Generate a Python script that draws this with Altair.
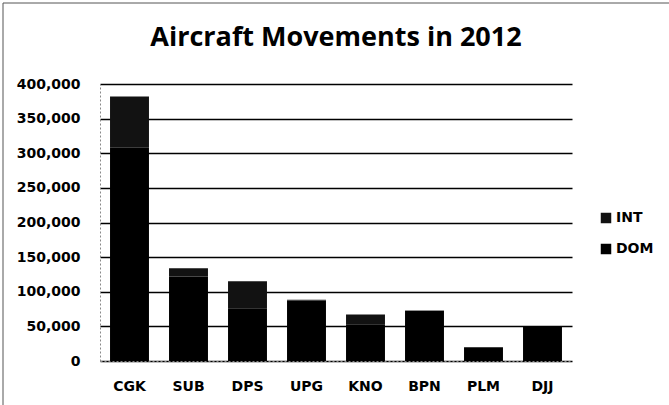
import altair as alt
import pandas as pd

airports = ["CGK", "SUB", "DPS", "UPG", "KNO", "BPN", "PLM", "DJJ"]
dom = [308000, 122000, 76000, 87500, 53000, 72500, 19700, 50000]
intl = [74000, 12000, 39000, 1000, 14000, 500, 300, 0]
series = ["INT", "DOM"]
y_ticks = [0, 50000, 100000, 150000, 200000, 250000, 300000, 350000, 400000]

rows = []
for a, d, i in zip(airports, dom, intl):
    rows.append({"airport": a, "series": "DOM", "value": d, "ord": 0})
    rows.append({"airport": a, "series": "INT", "value": i, "ord": 1})
df = pd.DataFrame(rows)

FONT = "DejaVu Sans"
TFONT = "Open Sans"

bars = alt.Chart(df).mark_bar().encode(
    x=alt.X("airport:N", sort=airports,
            scale=alt.Scale(paddingInner=0.34, paddingOuter=0.17),
            axis=alt.Axis(title=None, labelAngle=0, labelFont=FONT, labelFontSize=14,
                          labelFontWeight="bold",
                          labelColor="#000", labelPadding=18, ticks=False,
                          domainColor="#888", domainWidth=1, domainDash=[2, 2])),
    y=alt.Y("value:Q", stack="zero",
            scale=alt.Scale(domain=[0, 400000], nice=False),
            axis=alt.Axis(title=None, values=y_ticks, format=",d", labelFont=FONT,
                          labelFontSize=14, labelFontWeight="bold",
                          labelColor="#000", labelPadding=20,
                          ticks=False, domainColor="#888", domainDash=[2, 2],
                          gridColor="#000", gridWidth=1.5, gridOpacity=1)),
    color=alt.Color("series:N",
                    scale=alt.Scale(domain=series, range=["#121212", "#000000"]),
                    legend=alt.Legend(title=None, orient="none", legendX=499, legendY=127,
                                      symbolType="square", symbolSize=110,
                                      symbolStrokeWidth=0, rowPadding=17,
                                      labelFont=FONT, labelFontSize=14,
                                      labelFontWeight="bold",
                                      labelColor="#000", labelOffset=3)),
    order=alt.Order("ord:Q", sort="ascending"),
)

frame = pd.DataFrame({"k": [0]})
border_left = alt.Chart(frame).mark_rule(color="#555", strokeWidth=1).encode(
    x=alt.value(-97), x2=alt.value(-97), y=alt.value(-81), y2=alt.value(321)
)
border_top = alt.Chart(frame).mark_rule(color="#555", strokeWidth=1).encode(
    x=alt.value(-97), x2=alt.value(569), y=alt.value(-81), y2=alt.value(-81)
)

chart = alt.layer(border_left, border_top, bars).properties(
    width=472, height=277,
    autosize=alt.AutoSizeParams(type="none"),
    padding={"left": 100, "top": 84, "right": 97, "bottom": 44},
    title=alt.Title("Aircraft Movements in 2012", font=TFONT, fontSize=27,
                    fontWeight="bold", color="#000", anchor="middle", offset=0, dy=49),
    background="white",
).configure_view(stroke=None)

chart.save("out.html", embed_options={"renderer": "svg", "actions": False})
